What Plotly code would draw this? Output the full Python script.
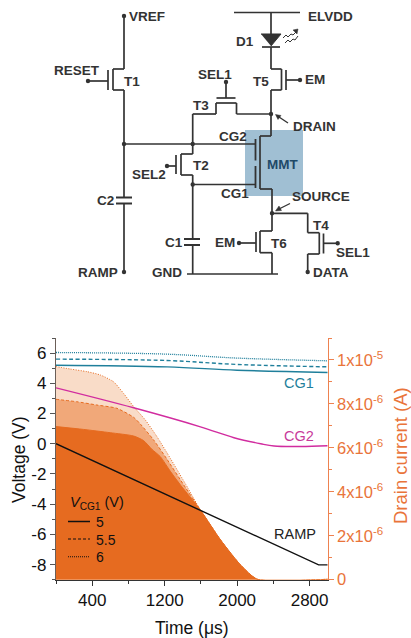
import plotly.graph_objects as go

W, H = 411, 638
FONT = "Liberation Sans"

# ---- chart data ----
current_time_6 = [0, 155, 340, 487, 635, 746, 857, 986, 1115, 1263, 1448, 1595, 1817, 2038, 2223, 3000]
current_6 = [9.70, 9.59, 9.47, 9.32, 9.01, 8.48, 7.88, 7.27, 6.51, 5.52, 4.23, 3.17, 1.81, 0.67, 0.02, 0.02]
current_time_55 = [0, 229, 451, 672, 857, 930, 1078, 1226, 1411, 1595, 1817, 2038, 2223, 3000]
current_55 = [8.21, 8.10, 7.95, 7.80, 7.39, 7.09, 6.36, 5.48, 4.31, 3.17, 1.81, 0.67, 0.02, 0.02]
current_time_5 = [0, 303, 598, 857, 967, 1060, 1152, 1263, 1374, 1595, 1817, 2038, 2223, 3000]
current_5 = [6.97, 6.84, 6.69, 6.54, 6.33, 5.93, 5.60, 4.93, 4.31, 3.17, 1.81, 0.67, 0.02, 0.02]

cg_time = [0, 1226, 2000, 3000]
cg1_5 = [5.20, 5.09, 4.87, 4.72]
cg1_55 = [5.60, 5.51, 5.25, 5.09]
cg1_6 = [6.04, 5.93, 5.67, 5.49]

cg2_time = [0, 857, 1595, 1965, 2260, 2408, 2703, 3000]
cg2 = [3.70, 2.38, 1.12, 0.40, 0.0, -0.15, -0.18, -0.13]

ramp_time = [0, 1595, 2900, 3000]
ramp = [0, -4.40, -8.02, -8.02]

voltage_ticks = [-8, -6, -4, -2, 0, 2, 4, 6]
current_ticks = [0, 2e-6, 4e-6, 6e-6, 8e-6, 1e-5]
current_labels = ["0", "2x10<sup>-6</sup>", "4x10<sup>-6</sup>", "6x10<sup>-6</sup>", "8x10<sup>-6</sup>", "1x10<sup>-5</sup>"]

ORANGE = "#E66B20"
ORANGE_55 = "#F1A879"
ORANGE_6 = "#F9DCC8"
ORANGE_AX = "#EE8250"
ORANGE_TXT = "#E9743A"
TEAL = "#1F7F9B"
MAGENTA = "#D12C9F"
WIRE = "#333333"


def px(x):
    return x / W


def py(y):
    return 1 - y / H


shapes = []
annotations = []


def polyline(points, width=1.7, color=WIRE, dash=None):
    for (x0, y0), (x1, y1) in zip(points, points[1:]):
        line = dict(color=color, width=width)
        if dash:
            line["dash"] = dash
        shapes.append(dict(type="line", xref="paper", yref="paper", x0=px(x0), y0=py(y0),
                           x1=px(x1), y1=py(y1), line=line))


def dot(x, y, r=2.2):
    shapes.append(dict(type="circle", xref="paper", yref="paper", x0=px(x - r), x1=px(x + r),
                       y0=py(y - r), y1=py(y + r), fillcolor=WIRE, line=dict(width=0)))


def path(points, fill=None, width=1.0, close=False):
    d = "M" + " L".join(f"{px(x):.5f},{py(y):.5f}" for x, y in points) + (" Z" if close else "")
    shapes.append(dict(type="path", xref="paper", yref="paper", path=d,
                       fillcolor=fill if fill else "rgba(0,0,0,0)",
                       line=dict(color=WIRE, width=width)))


def label(text, x, y, size=13.5, color=WIRE, bold=True, anchor="center", angle=0):
    annotations.append(dict(text=f"<b>{text}</b>" if bold else text, x=px(x), y=py(y), xref="paper",
                            yref="paper", showarrow=False, xanchor=anchor, yanchor="middle", textangle=angle,
                            font=dict(family=FONT, size=size, color=color)))


# ---- schematic ----
shapes.append(dict(type="rect", xref="paper", yref="paper", x0=px(245), x1=px(303), y0=py(130), y1=py(196),
                   fillcolor="#A0BFD3", line=dict(width=0), layer="below"))

# T1 and VREF
polyline([(124, 16), (124, 69), (113, 69), (113, 90), (124, 90), (124, 197.5)])
polyline([(108, 70), (108, 90)])
polyline([(88, 81), (108, 81)])
dot(124, 16); dot(88, 81)
# C2
polyline([(116, 197.5), (132, 197.5)], 2)
polyline([(116, 203.5), (132, 203.5)], 2)
polyline([(124, 203.5), (124, 272)])
dot(124, 272)
# CG2 bus
polyline([(124, 144), (255.5, 144)])
dot(124, 144); dot(192.7, 144)
# T3
polyline([(192.7, 144), (192.7, 114), (216, 114), (216, 103), (236.5, 103), (236.5, 114), (271, 114)])
polyline([(216.5, 98), (235.5, 98)])
polyline([(226, 98), (226, 82)])
dot(226, 82); dot(271, 114)
# ELVDD, D1, T5
polyline([(234, 12.5), (300, 12.5)])
polyline([(271, 12.5), (271, 34)])
path([(261, 34), (281, 34), (271, 46)], fill=WIRE)
polyline([(262, 47), (280, 47)], 1.7)
polyline([(271, 47), (271, 69), (281.5, 69), (281.5, 90), (271, 90), (271, 136), (260, 136), (260, 189),
          (272, 189), (272, 213.3)])
polyline([(286, 70), (286, 90)])
polyline([(286, 80), (300, 80)])
dot(300, 80)
# photons
path([(283, 38), (286, 35), (288, 37), (291, 34), (293, 35), (296, 32)], width=1)
path([(285, 43), (288, 40), (290, 42), (293, 39), (295, 40), (298, 36)], width=1)
path([(293, 30), (298, 29), (297, 34)], fill=WIRE, width=0.5, close=True)
# MMT gates
polyline([(255.5, 139), (255.5, 160.5)], 1.8)
polyline([(255.5, 166), (255.5, 188)], 1.8)
# T2
polyline([(192.7, 144), (192.7, 154), (181, 154), (181, 175), (192.7, 175), (192.7, 239)])
polyline([(176, 155), (176, 174)])
polyline([(167, 166), (176, 166)])
polyline([(192.7, 184.5), (255.5, 184.5)])
dot(167, 166); dot(192.7, 184.5)
# C1 and GND
polyline([(184, 239), (200, 239)], 2)
polyline([(184, 245), (200, 245)], 2)
polyline([(192.7, 245), (192.7, 274)])
polyline([(187, 274), (278, 274)])
# T6
polyline([(272, 213.3), (272, 231), (260, 231), (260, 252.7), (272, 252.7), (272, 274)])
polyline([(256, 232), (256, 252)])
polyline([(239, 243), (256, 243)])
dot(239, 243); dot(272, 213.3)
# T4 and DATA
polyline([(272, 213.3), (307.7, 213.3), (307.7, 232.7), (319.3, 232.7), (319.3, 254), (307.7, 254), (307.7, 272)])
polyline([(323.5, 233.5), (323.5, 253.5)])
polyline([(323.5, 243.3), (337.7, 243.3)])
dot(337.7, 243.3); dot(307.7, 272)
# pointer arrows
polyline([(288, 123), (279, 117)], 1.3)
path([(275.5, 114.5), (281, 115.5), (278, 119.5)], fill=WIRE, width=0.5, close=True)
polyline([(290, 203.5), (280, 208.5)], 1.3)
path([(275.5, 211), (279, 206), (281.5, 210.5)], fill=WIRE, width=0.5, close=True)

for text, x, y in [("VREF", 146.7, 16.5), ("ELVDD", 330, 16.5), ("D1", 244.7, 41), ("RESET", 76.7, 71),
                   ("T1", 131.7, 81.7), ("SEL1", 215, 74), ("T5", 261, 81.7), ("EM", 315.3, 80),
                   ("T3", 201, 106), ("DRAIN", 314, 126), ("CG2", 232.7, 136.7), ("T2", 200.7, 165.3),
                   ("SEL2", 149, 175), ("CG1", 235, 193.7), ("SOURCE", 321, 196), ("C2", 105, 200.7),
                   ("T4", 321, 225), ("C1", 174, 242.7), ("EM", 225, 242.7), ("T6", 279.3, 243.3),
                   ("SEL1", 353.3, 252.7), ("RAMP", 98.3, 272.3), ("GND", 167.3, 272.3), ("DATA", 331, 272.3)]:
    label(text, x, y)
label("MMT", 282.7, 165, color="#1F4A68")

# ---- chart traces ----
fig = go.Figure()


def current_trace(t, values, fill, dash):
    fig.add_trace(go.Scatter(x=t, y=[v * 1e-6 for v in values], yaxis="y2", mode="lines", fill="tozeroy",
                             fillcolor=fill, showlegend=False,
                             line=dict(color=ORANGE, width=1, dash=dash, shape="spline", smoothing=0.6)))


current_trace(current_time_6, current_6, ORANGE_6, "1px,1.5px")
current_trace(current_time_55, current_55, ORANGE_55, "3px,2px")
current_trace(current_time_5, current_5, ORANGE, "solid")


def voltage_trace(t, values, color, dash="solid", width=1.4, shape="linear"):
    fig.add_trace(go.Scatter(x=t, y=values, yaxis="y", mode="lines",
                             line=dict(color=color, width=width, dash=dash, shape=shape), showlegend=False))


voltage_trace(cg_time, cg1_6, TEAL, "1px,1px", 1.3, "spline")
voltage_trace(cg_time, cg1_55, TEAL, "4px,2.5px", 1.4, "spline")
voltage_trace(cg_time, cg1_5, TEAL, "solid", 1.4, "spline")
voltage_trace(cg2_time, cg2, MAGENTA, "solid", 1.4, "spline")
voltage_trace(ramp_time, ramp, "#111111")

# chart labels and VCG1 key
label("CG1", 299.3, 383.5, 14.5, TEAL, bold=False)
label("CG2", 299.3, 436, 14.5, "#C83A9A", bold=False)
label("RAMP", 295, 534, 14.5, "#222222", bold=False)
label("<i>V</i><sub>CG1</sub> (V)", 68, 503, 14.5, "#111111", bold=False, anchor="left")
polyline([(68, 521.5), (90, 521.5)], 1.5, "#111111")
polyline([(68, 539), (90, 539)], 1.2, "#111111", "3px,2px")
polyline([(68, 556.7), (90, 556.7)], 1.1, "#111111", "1px,1px")
label("5", 94, 522, 14, "#111111", bold=False, anchor="left")
label("5.5", 94, 539.5, 14, "#111111", bold=False, anchor="left")
label("6", 94, 557, 14, "#111111", bold=False, anchor="left")

# axis titles placed as text so that they do not push the margins
label("Time (μs)", 192, 628, 17.5, "#111111", bold=False)
label("Voltage (V)", 19, 460, 17.5, "#111111", bold=False, angle=-90)
label("Drain current (A)", 401, 456, 18.5, ORANGE_TXT, bold=False, angle=-90)

fig.update_layout(
    width=W, height=H, autosize=False, margin=dict(l=0, r=0, t=0, b=0, autoexpand=False),
    paper_bgcolor="white", plot_bgcolor="white",
    font=dict(family=FONT, color="#111111"), showlegend=False, shapes=shapes, annotations=annotations,
    xaxis=dict(domain=[px(56), px(327.7)], range=[0, 3000], anchor="y2", tickmode="linear", tick0=400, dtick=800,
               ticks="outside", ticklen=5, tickcolor="#333333", showline=True, linecolor="#333333", linewidth=1.2,
               showgrid=False, zeroline=False, tickfont=dict(size=17), automargin=False,
               minor=dict(tickmode="linear", tick0=0, dtick=400, ticks="outside", ticklen=3, tickcolor="#333333")),
    yaxis=dict(domain=[py(579.7), py(338)], range=[-9, 7], overlaying="y2", side="left", anchor="x",
               tickmode="array", tickvals=voltage_ticks, ticktext=[str(v) for v in voltage_ticks],
               ticks="outside", ticklen=5, tickcolor="#555555", showline=True, linecolor="#6B5F58", linewidth=1.4,
               showgrid=False, zeroline=False, tickfont=dict(size=17), automargin=False,
               minor=dict(tickmode="linear", tick0=0, dtick=1, ticks="outside", ticklen=3, tickcolor="#555555")),
    yaxis2=dict(domain=[py(579.7), py(338)], range=[0, 1.1e-5], side="right", anchor="x",
                tickmode="array", tickvals=current_ticks, ticktext=current_labels,
                ticks="outside", ticklen=5, tickcolor=ORANGE_AX, showline=True, linecolor=ORANGE_AX, linewidth=1.2,
                showgrid=False, zeroline=False, tickfont=dict(size=16.5, color=ORANGE_TXT), automargin=False,
                minor=dict(tickmode="linear", tick0=0, dtick=1e-6, ticks="outside", ticklen=3, tickcolor=ORANGE_AX)),
)

fig.write_html("out.html", default_width="411px", default_height="638px",
               config={"displayModeBar": False, "responsive": False},
               post_script="document.body.style.margin='0';document.documentElement.style.overflow='hidden';")
